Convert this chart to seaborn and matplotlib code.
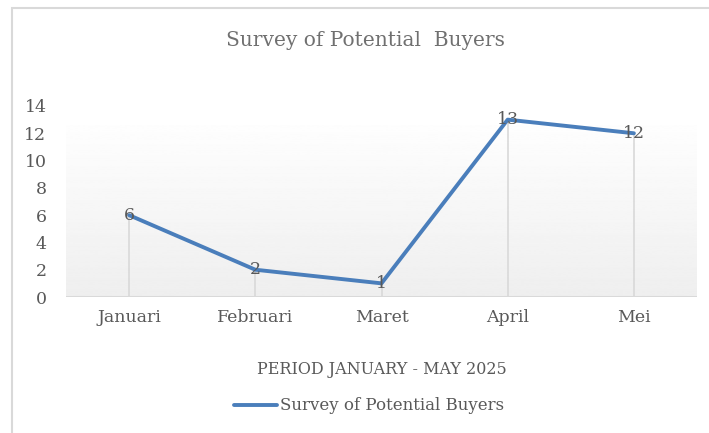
import numpy as np
import pandas as pd
import matplotlib
matplotlib.use("Agg")
import matplotlib.pyplot as plt
import seaborn as sns
from matplotlib.patches import Rectangle

# data
months = ["Januari", "Februari", "Maret", "April", "Mei"]
buyers = [6, 2, 1, 13, 12]
y_ticks = [0, 2, 4, 6, 8, 10, 12, 14]
series_name = "Survey of Potential Buyers"

df = pd.DataFrame({"month": months, "buyers": buyers})

sns.set_theme(style="white")
plt.rcParams["font.family"] = ["DejaVu Serif"]

txt = "#595959"
blue = "#4A7EBB"

fig = plt.figure(figsize=(7.09, 4.33), dpi=100)
ax = fig.add_axes([66 / 709, 1 - 297 / 433, 631 / 709, (297 - 106) / 433])

# outer chart border
fig.patches.append(Rectangle((12 / 709, -0.05), 1.1, 1 - 8 / 433 + 0.05,
                             transform=fig.transFigure, fill=False,
                             edgecolor="#d9d9d9", linewidth=1.5))

# gradient plot area
grad = np.linspace(0.935, 0.995, 256).reshape(-1, 1)
ax.imshow(grad, cmap="gray", vmin=0, vmax=1, aspect="auto",
          extent=(-0.5, 4.5, 0, 12.6), origin="lower", zorder=0)

x = np.arange(len(months))
ax.vlines(x, 0, buyers, color="#d9d9d9", linewidth=1.2, zorder=1)
ax.axhline(0, color="#d9d9d9", linewidth=1.5, zorder=1)

sns.lineplot(data=df, x=x, y="buyers", ax=ax, color=blue, linewidth=2.8,
             label=series_name, zorder=3, sort=False)

for xi, v in zip(x, buyers):
    ax.text(xi, v, str(v), ha="center", va="center", fontsize=12.5, color=txt, zorder=4)

ax.set_xlim(-0.5, 4.5)
ax.set_ylim(0, 14)
ax.set_yticks(y_ticks)
ax.set_xticks(x)
ax.set_xticklabels(months)
ax.tick_params(axis="both", length=0, labelsize=12.5, colors=txt)
ax.tick_params(axis="x", pad=9)
ax.tick_params(axis="y", pad=14)
for s in ax.spines.values():
    s.set_visible(False)
ax.set_ylabel("")
ax.set_xlabel("PERIOD JANUARY - MAY 2025", fontsize=11.5, color=txt, labelpad=25)

fig.text(365 / 709, 1 - 40 / 433, "Survey of Potential  Buyers", ha="center",
         va="center", fontsize=14.5, color="#707070")

leg = ax.legend(loc="center", bbox_to_anchor=(369 / 709, 1 - 406 / 433),
                bbox_transform=fig.transFigure, frameon=False, fontsize=12,
                handlelength=2.6, handletextpad=0.2)
for t in leg.get_texts():
    t.set_color(txt)

fig.savefig("out.png", dpi=100)
